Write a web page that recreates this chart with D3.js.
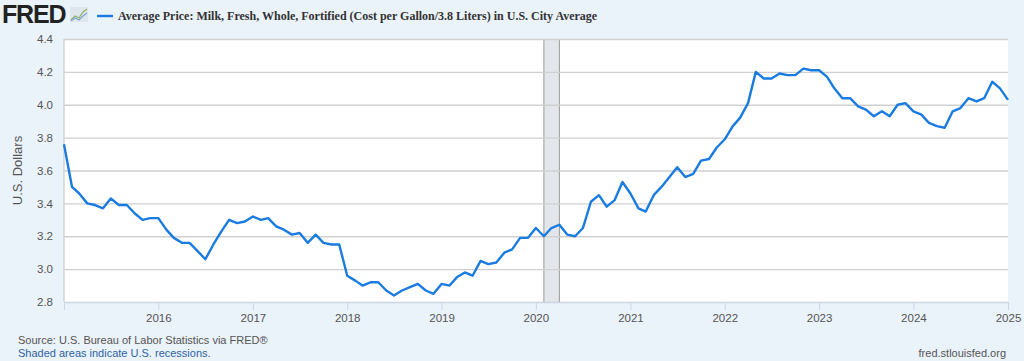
<!DOCTYPE html>
<html>
<head>
<meta charset="utf-8">
<script src="https://cdn.jsdelivr.net/npm/d3@7"></script>
<style>
  html, body { margin: 0; padding: 0; background: #eaf2fa; }
  svg { display: block; }
</style>
</head>
<body>
<div id="chart"></div>
<script>
// monthly average price, starting Jan 2015
var startMonth = "2015-01";
var prices = [
  3.76, 3.50, 3.46, 3.40, 3.39, 3.37, 3.43, 3.39, 3.39, 3.34, 3.30, 3.31,
  3.31, 3.24, 3.19, 3.16, 3.16, 3.11, 3.06, 3.15, 3.23, 3.30, 3.28, 3.29,
  3.32, 3.30, 3.31, 3.26, 3.24, 3.21, 3.22, 3.16, 3.21, 3.16, 3.15, 3.15,
  2.96, 2.93, 2.90, 2.92, 2.92, 2.87, 2.84, 2.87, 2.89, 2.91, 2.87, 2.85,
  2.91, 2.90, 2.95, 2.98, 2.96, 3.05, 3.03, 3.04, 3.10, 3.12, 3.19, 3.19,
  3.25, 3.20, 3.25, 3.27, 3.21, 3.20, 3.25, 3.41, 3.45, 3.38, 3.42, 3.53,
  3.46, 3.37, 3.35, 3.45, 3.50, 3.56, 3.62, 3.56, 3.58, 3.66, 3.67, 3.74,
  3.79, 3.87, 3.92, 4.01, 4.20, 4.16, 4.16, 4.19, 4.18, 4.18, 4.22, 4.21,
  4.21, 4.17, 4.10, 4.04, 4.04, 3.99, 3.97, 3.93, 3.96, 3.93, 4.00, 4.01,
  3.96, 3.94, 3.89, 3.87, 3.86, 3.96, 3.98, 4.04, 4.02, 4.04, 4.14, 4.10,
  4.03
];
var yTicks = [2.8, 3.0, 3.2, 3.4, 3.6, 3.8, 4.0, 4.2, 4.4];
var xTickYears = [2016, 2017, 2018, 2019, 2020, 2021, 2022, 2023, 2024, 2025];
var recessions = [["2020-02-01", "2020-04-01"]];
var title = "Average Price: Milk, Fresh, Whole, Fortified (Cost per Gallon/3.8 Liters) in U.S. City Average";

var parseMonth = d3.timeParse("%Y-%m");
var parseDay = d3.timeParse("%Y-%m-%d");
var t0 = parseMonth(startMonth);
var data = prices.map(function(v, i) { return { date: d3.timeMonth.offset(t0, i), value: v }; });

var W = 1024, H = 361;
var margin = {top: 39, right: 16, bottom: 59, left: 64};

var x = d3.scaleTime()
    .domain([t0, d3.timeMonth.offset(t0, prices.length - 1)])
    .range([margin.left, W - margin.right]);
var y = d3.scaleLinear()
    .domain([2.8, 4.4])
    .range([H - margin.bottom, margin.top]);

var svg = d3.select("#chart").append("svg")
    .attr("width", W)
    .attr("height", H)
    .style("font-family", "'Liberation Sans', Arial, sans-serif");

// plot background
svg.append("rect")
    .attr("x", margin.left).attr("y", margin.top)
    .attr("width", W - margin.left - margin.right)
    .attr("height", H - margin.top - margin.bottom)
    .attr("fill", "#fff");

// recession shading
recessions.forEach(function(r) {
  var x0 = x(parseDay(r[0])), x1 = x(parseDay(r[1]));
  svg.append("rect")
      .attr("x", x0).attr("y", margin.top)
      .attr("width", x1 - x0).attr("height", H - margin.top - margin.bottom)
      .attr("fill", "#e3e6ea");
  [x0, x1].forEach(function(xx) {
    svg.append("line")
        .attr("x1", xx).attr("x2", xx)
        .attr("y1", margin.top).attr("y2", H - margin.bottom)
        .attr("stroke", "#9a9a9a").attr("stroke-width", 1);
  });
});

// y grid + labels
var yAxis = d3.axisLeft(y)
    .tickValues(yTicks)
    .tickSize(-(W - margin.left - margin.right))
    .tickFormat(d3.format(".1f"));
var gy = svg.append("g")
    .attr("transform", "translate(" + margin.left + ",0)")
    .call(yAxis);
gy.select(".domain").remove();
gy.selectAll(".tick line").attr("stroke", "#d0d0d0").attr("stroke-width", 1.3);
gy.selectAll(".tick text")
    .attr("x", -11)
    .attr("fill", "#555")
    .style("font-size", "11.5px");

// left border of plot
svg.append("line")
    .attr("x1", margin.left).attr("x2", margin.left)
    .attr("y1", margin.top).attr("y2", H - margin.bottom)
    .attr("stroke", "#cfcfcf").attr("stroke-width", 1.3);

// x axis
var xAxis = d3.axisBottom(x)
    .tickValues(xTickYears.map(function(yr) { return new Date(yr, 0, 1); }))
    .tickSize(8)
    .tickFormat(d3.timeFormat("%Y"));
var gx = svg.append("g")
    .attr("transform", "translate(0," + (H - margin.bottom) + ")")
    .call(xAxis);
gx.select(".domain").attr("stroke", "#ccd6eb");
gx.selectAll(".tick line").attr("stroke", "#ccd6eb");
gx.selectAll(".tick text")
    .attr("y", 12)
    .attr("fill", "#555")
    .style("font-size", "11.5px");

// data line
var line = d3.line()
    .x(function(d) { return x(d.date); })
    .y(function(d) { return y(d.value); });
svg.append("path")
    .datum(data)
    .attr("d", line)
    .attr("fill", "none")
    .attr("stroke", "#1a7be0")
    .attr("stroke-width", 2.4)
    .attr("stroke-linejoin", "round");

// y axis title
svg.append("text")
    .attr("transform", "translate(22," + ((margin.top + H - margin.bottom) / 2) + ") rotate(-90)")
    .attr("text-anchor", "middle")
    .attr("fill", "#555")
    .style("font-size", "13px")
    .text("U.S. Dollars");

// header: logo + legend title
svg.append("text")
    .attr("x", 2).attr("y", 23)
    .attr("fill", "#222")
    .style("font-size", "25px")
    .style("font-weight", "bold")
    .style("letter-spacing", "-1.2px")
    .text("FRED");
var icon = svg.append("g").attr("transform", "translate(70,7)");
icon.append("rect").attr("width", 18).attr("height", 15).attr("fill", "#dfe7ee");
icon.append("path")
    .attr("d", "M1,13 L5,9 L9,11 L13,5 L17,2")
    .attr("fill", "none").attr("stroke", "#8fb56f").attr("stroke-width", 1.3);
icon.append("path")
    .attr("d", "M1,14 L5,11 L9,13 L13,9 L17,6")
    .attr("fill", "none").attr("stroke", "#7ea3c9").attr("stroke-width", 1.1);

svg.append("line")
    .attr("x1", 97).attr("x2", 113)
    .attr("y1", 16).attr("y2", 16)
    .attr("stroke", "#1a7be0").attr("stroke-width", 2.4);
svg.append("text")
    .attr("x", 118).attr("y", 20)
    .attr("fill", "#333")
    .style("font-family", "'Liberation Serif', 'Times New Roman', serif")
    .style("font-weight", "bold")
    .style("font-size", "12px")
    .text(title);

// footer
svg.append("text")
    .attr("x", 18).attr("y", 344)
    .attr("fill", "#555")
    .style("font-size", "11px")
    .text("Source: U.S. Bureau of Labor Statistics via FRED®");
svg.append("text")
    .attr("x", 18).attr("y", 357)
    .attr("fill", "#2f63a4")
    .style("font-size", "11px")
    .text("Shaded areas indicate U.S. recessions.");
svg.append("text")
    .attr("x", 1006).attr("y", 357)
    .attr("text-anchor", "end")
    .attr("fill", "#555")
    .style("font-size", "11px")
    .text("fred.stlouisfed.org");
</script>
</body>
</html>
